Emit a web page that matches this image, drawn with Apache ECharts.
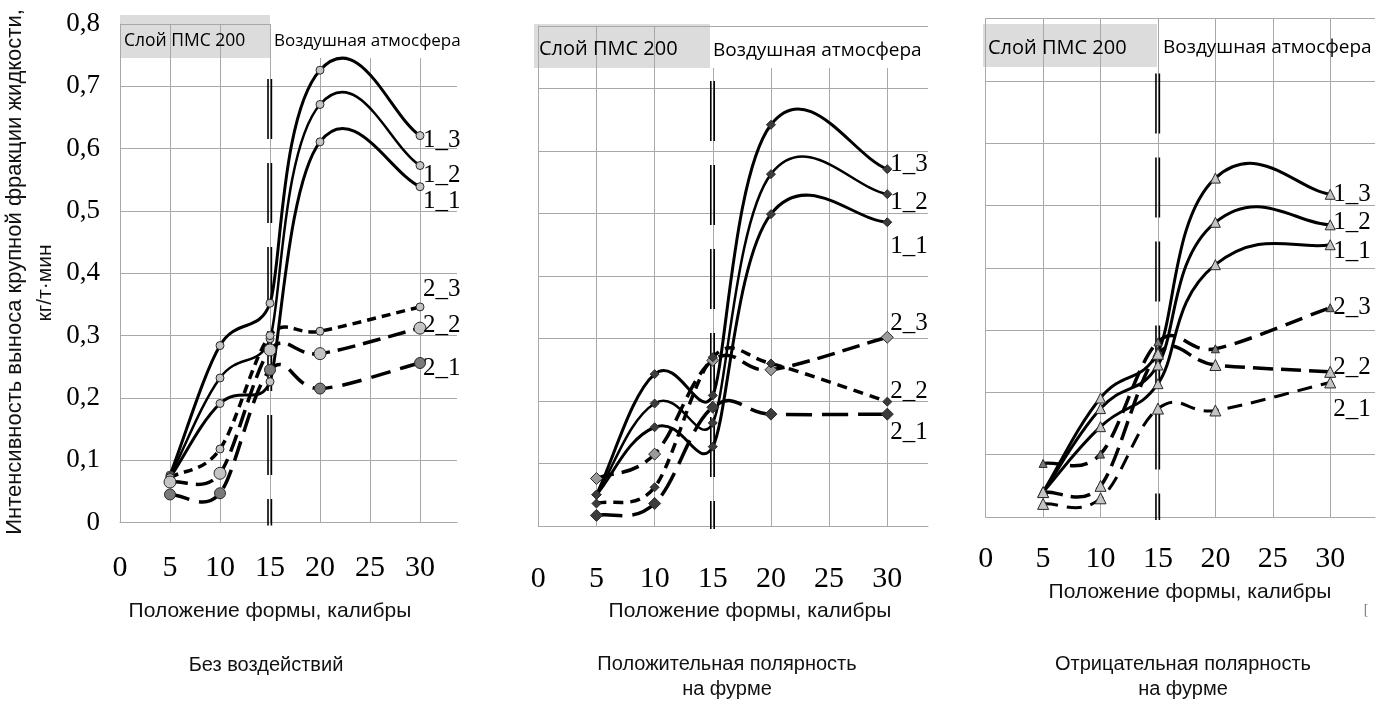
<!DOCTYPE html>
<html><head><meta charset="utf-8">
<script src="https://cdn.jsdelivr.net/npm/echarts@6/dist/echarts.min.js"></script>
<style>html,body{margin:0;padding:0;background:#fff}#c{width:1376px;height:704px}</style>
</head><body><div id="c"></div>
<script>
// ---- data ----
const positions = [5, 10, 15, 20, 30];          // Положение формы, калибры
const seriesNames = ['1_3', '1_2', '1_1', '2_3', '2_2', '2_1'];
const yTicks = [0, 0.1, 0.2, 0.3, 0.4, 0.5, 0.6, 0.7, 0.8];
const xTicks = [0, 5, 10, 15, 20, 25, 30];
const dividerX = 15;                              // граница слой / атмосфера
const dividerTop = 0.712;
const layerLabel = 'Слой ПМС 200';
const airLabel = 'Воздушная атмосфера';
const panelTitles = ['Без воздействий', 'Положительная полярность\nна фурме', 'Отрицательная полярность\nна фурме'];
const xName = 'Положение формы, калибры';
const yName1 = 'Интенсивность выноса крупной фракции жидкости,';
const yName2 = 'кг/т·мин';

// Panel 1: Без воздействий
const p1_13 = [0.076, 0.284, 0.352, 0.726, 0.621];
const p1_12 = [0.074, 0.232, 0.295, 0.671, 0.573];
const p1_11 = [0.072, 0.191, 0.226, 0.611, 0.539];
const p1_23 = [0.072, 0.118, 0.300, 0.307, 0.346];
const p1_22 = [0.065, 0.079, 0.277, 0.271, 0.312];
const p1_21 = [0.045, 0.047, 0.245, 0.215, 0.256];
// Panel 2: Положительная полярность
const p2_13 = [0.050, 0.243, 0.209, 0.642, 0.571];
const p2_12 = [0.050, 0.196, 0.165, 0.563, 0.531];
const p2_11 = [0.050, 0.158, 0.127, 0.499, 0.486];
const p2_23 = [0.076, 0.115, 0.265, 0.250, 0.302];
const p2_22 = [0.036, 0.062, 0.270, 0.260, 0.199];
const p2_21 = [0.017, 0.036, 0.190, 0.179, 0.179];
// Panel 3: Отрицательная полярность
const p3_13 = [0.040, 0.191, 0.265, 0.544, 0.518];
const p3_12 = [0.040, 0.174, 0.244, 0.473, 0.469];
const p3_11 = [0.040, 0.145, 0.214, 0.405, 0.437];
const p3_23 = [0.086, 0.101, 0.281, 0.270, 0.336];
const p3_22 = [0.040, 0.050, 0.262, 0.244, 0.233];
const p3_21 = [0.021, 0.030, 0.174, 0.171, 0.216];

const panelData = [
  [p1_13, p1_12, p1_11, p1_23, p1_22, p1_21],
  [p2_13, p2_12, p2_11, p2_23, p2_22, p2_21],
  [p3_13, p3_12, p3_11, p3_23, p3_22, p3_21]
];

// ---- layout / styles ----
const grids = [
  {left: 120, top: 24.1, width: 337, height: 498.4, xMax: 33.7, labelMargin: 31},
  {left: 538.3, top: 26, width: 389.7, height: 500, xMax: 33.5, labelMargin: 38},
  {left: 985.7, top: 18.6, width: 389.3, height: 498.4, xMax: 33.9, labelMargin: 27}
];
const markerShapes = ['circle', 'diamond', 'triangle'];
const light = '#c4c4c4', mid = '#9a9a9a', dark = '#3c3c3c', darkMid = '#7a7a7a';
// per panel: [lineWidth, dash, markerSize, markerColor, labelOffsetY]
const styles = [
  [
    [3, null, 8, light, 5], [2.5, null, 8, light, 10], [3, null, 8, light, 15],
    [3.5, [9, 6], 8, light, -18], [3.5, [18, 8], 12, light, -3], [3.5, [20, 10], 11, darkMid, 5]
  ],
  [
    [3, null, 9, dark, -5], [2.5, null, 9, dark, 8], [3, null, 9, dark, 24],
    [3.5, [18, 8], 12, mid, -14], [3.5, [10, 7], 9, dark, -10], [3.5, [26, 10], 12, dark, 18]
  ],
  [
    [3, null, 10, light, 0], [3, null, 10, light, -2], [3, null, 10, light, 7],
    [3.5, [18, 9], 8, darkMid, 0], [3.5, [20, 8], 11, light, -4], [3, [15, 9], 11, light, 27]
  ]
];
const TANGENT_K = 0.5;   // spline tangent length relative to shorter neighbouring segment
const END_K = 0.3;       // end-point control factor

const serif = '"Liberation Serif", "Times New Roman", serif';
const sans = '"Liberation Sans", Arial, sans-serif';
const calib = '"Open Sans", "Noto Sans", sans-serif';

function splinePath(pts, k, kEnd) {
  const n = pts.length;
  const dist = (a, b) => Math.hypot(b[0] - a[0], b[1] - a[1]);
  const fwd = [], bwd = [];
  for (let i = 0; i < n; i++) {
    const p = pts[i];
    if (i === 0) { const q = pts[1]; fwd[i] = [p[0] + kEnd * (q[0] - p[0]), p[1] + kEnd * (q[1] - p[1])]; continue; }
    if (i === n - 1) { const q = pts[n - 2]; bwd[i] = [p[0] + kEnd * (q[0] - p[0]), p[1] + kEnd * (q[1] - p[1])]; continue; }
    const a = pts[i - 1], b = pts[i + 1];
    const vx = b[0] - a[0], vy = b[1] - a[1], vl = Math.hypot(vx, vy) || 1;
    const L = k * Math.min(dist(a, p), dist(p, b));
    fwd[i] = [p[0] + vx / vl * L, p[1] + vy / vl * L];
    bwd[i] = [p[0] - vx / vl * L, p[1] - vy / vl * L];
  }
  let d = 'M' + pts[0][0] + ',' + pts[0][1];
  for (let i = 0; i < n - 1; i++) {
    d += ' C' + fwd[i][0] + ',' + fwd[i][1] + ' ' + bwd[i + 1][0] + ',' + bwd[i + 1][1] + ' ' + pts[i + 1][0] + ',' + pts[i + 1][1];
  }
  return d;
}

const gridOpt = [], xAxes = [], yAxes = [], series = [];
grids.forEach((g, p) => {
  gridOpt.push({left: g.left, top: g.top, width: g.width, height: g.height, containLabel: false});
  const splitColors = xTicks.map(() => '#a8a8a8').concat(['rgba(0,0,0,0)']);
  xAxes.push({
    type: 'value', gridIndex: p, min: 0, max: g.xMax, interval: 5,
    axisLine: {show: true, lineStyle: {color: '#a8a8a8', width: 1}},
    axisTick: {show: false},
    splitLine: {show: true, lineStyle: {color: splitColors, width: 1}},
    axisLabel: {
      show: true, margin: g.labelMargin, showMaxLabel: false,
      fontFamily: serif, fontSize: 30, color: '#000',
      formatter: v => xTicks.includes(v) ? String(v) : ''
    }
  });
  yAxes.push({
    type: 'value', gridIndex: p, min: yTicks[0], max: yTicks[yTicks.length - 1], interval: 0.1,
    axisLine: {show: true, lineStyle: {color: '#a8a8a8', width: 1}},
    axisTick: {show: false},
    splitLine: {show: true, lineStyle: {color: '#a8a8a8', width: 1}},
    axisLabel: {
      show: p === 0, margin: 20, fontFamily: serif, fontSize: 27, color: '#000',
      formatter: v => v === 0 ? '0' : v.toFixed(1).replace('.', ',')
    }
  });

  // double dashed divider line at x = 15
  series.push({
    type: 'custom', xAxisIndex: p, yAxisIndex: p, silent: true, animation: false, z: 2,
    data: [[dividerX, dividerTop]],
    renderItem: (params, api) => {
      const top = api.coord([dividerX, dividerTop]);
      const bottom = api.coord([dividerX, 0]);
      const mk = dx => ({
        type: 'line',
        shape: {x1: top[0] + dx, y1: top[1], x2: bottom[0] + dx, y2: bottom[1] + 3},
        style: {stroke: '#000', lineWidth: 1.6, lineDash: [60, 24], fill: null}
      });
      return {type: 'group', children: [mk(-2), mk(1.4)]};
    }
  });

  panelData[p].forEach((vals, s) => {
    const st = styles[p][s];
    const pts = positions.map((x, i) => [x, vals[i]]);
    // smoothed curve
    series.push({
      type: 'custom', xAxisIndex: p, yAxisIndex: p, silent: true, animation: false, z: 3,
      data: pts,
      renderItem: (params, api) => {
        if (params.dataIndex !== 0) return null;
        const px = pts.map(pt => api.coord(pt));
        return {
          type: 'path',
          shape: {pathData: splinePath(px, TANGENT_K, END_K)},
          style: {stroke: '#000', lineWidth: st[0], lineDash: st[1], fill: null, lineCap: 'butt'}
        };
      }
    });
    // markers + end label
    series.push({
      type: 'line', name: seriesNames[s], xAxisIndex: p, yAxisIndex: p,
      data: pts, smooth: false,
      symbol: markerShapes[p], symbolSize: st[2], showSymbol: true,
      itemStyle: {color: st[3], borderColor: '#2a2a2a', borderWidth: 1},
      lineStyle: {opacity: 0},
      endLabel: {
        show: true, formatter: seriesNames[s], distance: 3, offset: [0, st[4]],
        fontFamily: serif, fontSize: 25, color: '#000'
      },
      z: 4, animation: false, silent: true
    });
  });
});

// ---- static text / boxes ----
const graphics = [
  {type: 'rect', z: -1, shape: {x: 120, y: 15, width: 150, height: 43}, style: {fill: '#dcdcdc'}},
  {type: 'rect', z: -1, shape: {x: 534, y: 24, width: 176, height: 44}, style: {fill: '#dcdcdc'}},
  {type: 'rect', z: -1, shape: {x: 983, y: 24, width: 174, height: 43}, style: {fill: '#dcdcdc'}},
  {type: 'rect', z: 1, shape: {x: 271, y: 14, width: 190, height: 44}, style: {fill: '#fff'}},
  {type: 'rect', z: 1, shape: {x: 711, y: 27, width: 220, height: 41}, style: {fill: '#fff'}},
  {type: 'text', z: 10, x: 124, y: 41, style: {text: layerLabel, fontFamily: calib, fontSize: 17.5, fill: '#000', verticalAlign: 'middle'}},
  {type: 'text', z: 10, x: 274, y: 41, style: {text: airLabel, fontFamily: calib, fontSize: 17, fill: '#000', verticalAlign: 'middle'}},
  {type: 'text', z: 10, x: 539, y: 49, style: {text: layerLabel, fontFamily: calib, fontSize: 20, fill: '#000', verticalAlign: 'middle'}},
  {type: 'text', z: 10, x: 713, y: 51, style: {text: airLabel, fontFamily: calib, fontSize: 19, fill: '#000', verticalAlign: 'middle'}},
  {type: 'text', z: 10, x: 988, y: 48, style: {text: layerLabel, fontFamily: calib, fontSize: 20, fill: '#000', verticalAlign: 'middle'}},
  {type: 'text', z: 10, x: 1163, y: 48, style: {text: airLabel, fontFamily: calib, fontSize: 19, fill: '#000', verticalAlign: 'middle'}},
  {type: 'text', z: 10, x: 15, y: 272, rotation: Math.PI / 2, style: {text: yName1, fontFamily: sans, fontSize: 22, fill: '#111', align: 'center', verticalAlign: 'middle'}},
  {type: 'text', z: 10, x: 45, y: 283, rotation: Math.PI / 2, style: {text: yName2, fontFamily: sans, fontSize: 21, fill: '#111', align: 'center', verticalAlign: 'middle'}},
  {type: 'text', z: 10, x: 270, y: 611, style: {text: xName, fontFamily: sans, fontSize: 21, fill: '#111', align: 'center', verticalAlign: 'middle'}},
  {type: 'text', z: 10, x: 750, y: 611, style: {text: xName, fontFamily: sans, fontSize: 21, fill: '#111', align: 'center', verticalAlign: 'middle'}},
  {type: 'text', z: 10, x: 1190, y: 592, style: {text: xName, fontFamily: sans, fontSize: 21, fill: '#111', align: 'center', verticalAlign: 'middle'}},
  {type: 'text', z: 10, x: 266, y: 665, style: {text: panelTitles[0], fontFamily: sans, fontSize: 20, fill: '#111', align: 'center', verticalAlign: 'middle'}},
  {type: 'text', z: 10, x: 727, y: 677, style: {text: panelTitles[1], fontFamily: sans, fontSize: 20, lineHeight: 25, fill: '#111', align: 'center', verticalAlign: 'middle'}},
  {type: 'text', z: 10, x: 1183, y: 677, style: {text: panelTitles[2], fontFamily: sans, fontSize: 20, lineHeight: 25, fill: '#111', align: 'center', verticalAlign: 'middle'}},
  {type: 'text', z: 10, x: 1366, y: 610, style: {text: '[', fontFamily: serif, fontSize: 14, fill: '#777', align: 'center', verticalAlign: 'middle'}}
];

const chart = echarts.init(document.getElementById('c'), null, {renderer: 'canvas'});
chart.setOption({
  animation: false,
  backgroundColor: '#fff',
  grid: gridOpt,
  xAxis: xAxes,
  yAxis: yAxes,
  series: series,
  graphic: graphics
});
</script>
</body></html>
